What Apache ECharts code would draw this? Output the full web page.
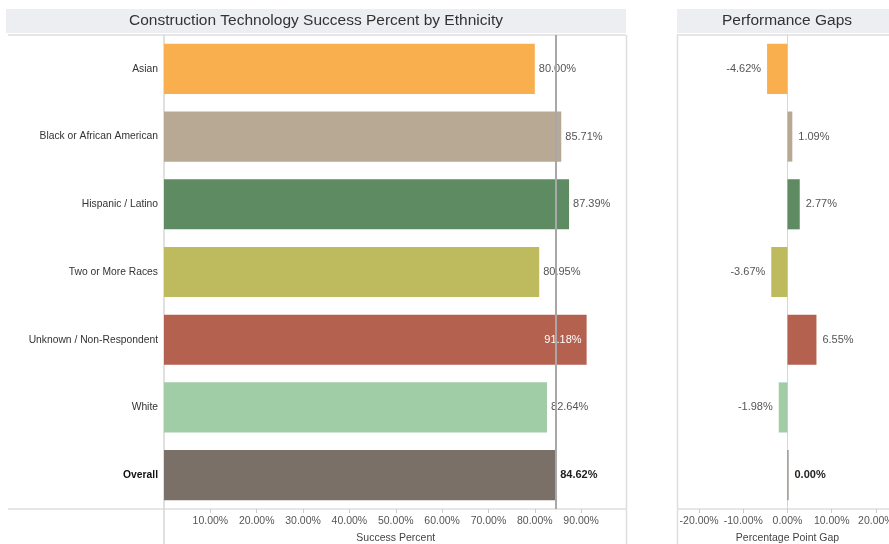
<!DOCTYPE html>
<html>
<head>
<meta charset="utf-8">
<script src="https://cdn.jsdelivr.net/npm/echarts@6/dist/echarts.min.js"></script>
<style>html,body{margin:0;padding:0;background:#fff}#c{width:889px;height:544px}</style>
</head>
<body>
<div id="c"></div>
<script>
const categories = ['Asian','Black or African American','Hispanic / Latino','Two or More Races','Unknown / Non-Respondent','White','Overall'];
const successPct = [80.00, 85.71, 87.39, 80.95, 91.18, 82.64, 84.62];
const gapPct = [-4.62, 1.09, 2.77, -3.67, 6.55, -1.98, 0.00];
const barColors = ['#F9AF4E','#B8A995','#5E8B62','#BEBA5E','#B5614F','#A0CCA6','#7A7067'];
const overallValue = 84.62;
const successTicks = [10,20,30,40,50,60,70,80,90];
const gapTicks = [-20,-10,0,10,20];

const FONT = 'Arial, "Liberation Sans", sans-serif';
const lineC = '#dedede';

function fmt(v){ return v.toFixed(2) + '%'; }

const successData = successPct.map((v,i)=>{
  const d = {value:v, itemStyle:{color:barColors[i]}};
  if (categories[i]==='Unknown / Non-Respondent') {
    d.label = {position:'insideRight', color:'#fff', distance:5};
  }
  if (categories[i]==='Overall') {
    d.label = {fontWeight:'bold', color:'#222'};
  }
  return d;
});
const gapData = gapPct.map((v,i)=>{
  const d = {value:v, itemStyle:{color:barColors[i]}, label:{position: v<0 ? 'left':'right'}};
  if (categories[i]==='Overall') { d.label.fontWeight='bold'; d.label.color='#222'; }
  return d;
});

const chart = echarts.init(document.getElementById('c'), null, {renderer:'canvas'});
chart.setOption({
  animation:false,
  textStyle:{fontFamily:FONT},
  graphic:[
    {type:'rect', shape:{x:6,y:9,width:620,height:24}, style:{fill:'#eceef1'}, silent:true, z:-1},
    {type:'rect', shape:{x:677,y:9,width:212,height:24}, style:{fill:'#eceef1'}, silent:true, z:-1},
    {type:'text', x:316, y:21, style:{text:'Construction Technology Success Percent by Ethnicity', font:'15.5px '+FONT, fill:'#333', textAlign:'center', textVerticalAlign:'middle'}},
    {type:'text', x:787, y:21, style:{text:'Performance Gaps', font:'15.5px '+FONT, fill:'#333', textAlign:'center', textVerticalAlign:'middle'}},
    {type:'line', shape:{x1:8,y1:35,x2:626,y2:35}, style:{stroke:lineC,lineWidth:1.5}},
    {type:'line', shape:{x1:677,y1:35,x2:889,y2:35}, style:{stroke:lineC,lineWidth:1.5}},
    {type:'line', shape:{x1:8,y1:509,x2:626,y2:509}, style:{stroke:lineC,lineWidth:1.5}},
    {type:'line', shape:{x1:677,y1:509,x2:889,y2:509}, style:{stroke:lineC,lineWidth:1.5}},
    {type:'line', shape:{x1:164,y1:35,x2:164,y2:544}, style:{stroke:'#d6d6d6',lineWidth:1.5}},
    {type:'line', shape:{x1:626.5,y1:35,x2:626.5,y2:544}, style:{stroke:lineC,lineWidth:1.5}},
    {type:'line', shape:{x1:677.5,y1:35,x2:677.5,y2:544}, style:{stroke:lineC,lineWidth:1.5}}
  ],
  grid:[
    {left:164, top:35, width:463.5, height:474, containLabel:false, outerBoundsMode:'none'},
    {left:677, top:35, width:221, height:474, containLabel:false, outerBoundsMode:'none'}
  ],
  xAxis:[
    {gridIndex:0, type:'value', min:0, max:100, interval:10,
     splitLine:{show:false}, axisLine:{show:false},
     axisTick:{show:true, length:4, lineStyle:{color:'#ccc'}, customValues:successTicks},
     axisLabel:{customValues:successTicks, formatter:v=>v.toFixed(2)+'%', color:'#555', fontSize:10.5, margin:7},
     name:'Success Percent', nameLocation:'middle', nameGap:24, nameTextStyle:{color:'#444', fontSize:10.5}},
    {gridIndex:1, type:'value', min:-25, max:25,
     splitLine:{show:false}, axisLine:{show:false},
     axisTick:{show:true, length:4, lineStyle:{color:'#ccc'}, customValues:gapTicks},
     axisLabel:{customValues:gapTicks, formatter:v=>v.toFixed(2)+'%', color:'#555', fontSize:10.5, margin:7},
     name:'Percentage Point Gap', nameLocation:'middle', nameGap:24, nameTextStyle:{color:'#444', fontSize:10.5}}
  ],
  yAxis:[
    {gridIndex:0, type:'category', data:categories, inverse:true,
     axisLine:{show:false}, axisTick:{show:false},
     axisLabel:{color:'#333', fontSize:10.3, margin:6,
       formatter:v=> v==='Overall' ? '{b|'+v+'}' : v,
       rich:{b:{fontWeight:'bold', color:'#111', fontSize:10.3}}}},
    {gridIndex:1, type:'category', data:categories, inverse:true,
     axisLine:{show:true, onZero:true, lineStyle:{color:'#d6d6d6', width:1}}, axisTick:{show:false},
     axisLabel:{show:false}}
  ],
  series:[
    {type:'bar', xAxisIndex:0, yAxisIndex:0, data:successData, barWidth:'74%',
     label:{show:true, position:'right', distance:4, color:'#555', fontSize:11, formatter:p=>fmt(p.value)},
     markLine:{silent:true, symbol:'none', label:{show:false},
       lineStyle:{color:'#a8a8a8', width:2, type:'solid'}, data:[{xAxis:overallValue}]}},
    {type:'bar', xAxisIndex:1, yAxisIndex:1, data:gapData, barWidth:'74%', barMinHeight:1,
     label:{show:true, distance:6, color:'#555', fontSize:11, formatter:p=>fmt(p.value)}}
  ]
});
</script>
</body>
</html>
